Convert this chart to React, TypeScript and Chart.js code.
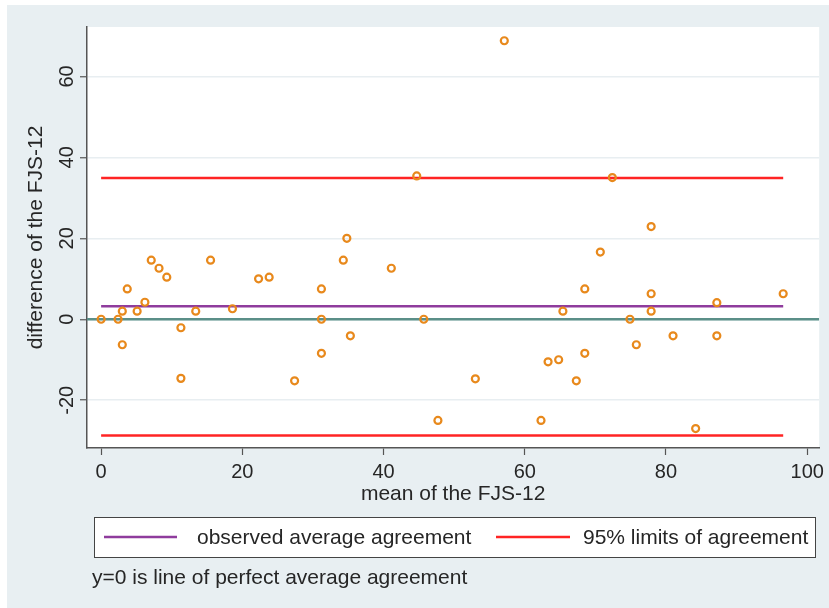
import React, { useEffect, useRef } from 'react';
import { Chart, registerables } from 'chart.js';

Chart.register(...registerables);

// Bland-Altman data: mean of the two FJS-12 measurements vs. their difference
const meanFJS = [
  0, 2.4, 3.0, 3.0, 3.7, 5.1, 6.2, 7.1, 8.2, 9.3,
  11.3, 11.3, 13.4, 15.5, 18.6, 22.3, 23.8, 27.4, 31.2, 31.2,
  31.2, 34.3, 34.8, 35.3, 41.1, 44.7, 45.7, 47.7, 53.0, 57.1,
  62.3, 63.3, 64.8, 65.4, 67.3, 68.5, 68.5, 70.7, 72.4, 74.9,
  75.8, 77.9, 77.9, 77.9, 81.0, 84.2, 87.2, 87.2, 96.6,
];
const diffFJS = [
  0, 0, 2.0, -6.3, 7.5, 2.0, 4.2, 14.6, 12.6, 10.4,
  -2.1, -14.6, 2.0, 14.6, 2.6, 10.0, 10.4, -15.2, 7.5, 0,
  -8.4, 14.6, 20.0, -4.1, 12.6, 35.4, 0, -25.0, -14.7, 68.8,
  -25.0, -10.5, -10.0, 2.0, -15.2, 7.5, -8.4, 16.6, 35.0, 0,
  -6.3, 22.9, 6.3, 2.0, -4.1, -27.0, 4.1, -4.1, 6.3,
];

const meanDifference = 3.2;
const upperLimit = 34.9;
const lowerLimit = -28.7;
const lineRange = [0, 96.6];

const xTicks = [0, 20, 40, 60, 80, 100];
const yTicks = [-20, 0, 20, 40, 60];
const xRange = [-2, 101.7];
const yRange = [-31.8, 72.2];

const xTitle = 'mean of the FJS-12';
const yTitle = 'difference of the FJS-12';
const legendLabels = ['observed average agreement', '95% limits of agreement'];
const noteText = 'y=0 is line of perfect average agreement';

const COLORS = {
  bg: '#e8eff2',
  plot: '#ffffff',
  grid: '#e8eef1',
  axis: '#555555',
  text: '#262626',
  point: '#e8891c',
  zero: '#5b8f88',
  mean: '#8f3c9d',
  limit: '#ff2424',
};
const FONT = '"Liberation Sans", Arial, Helvetica, sans-serif';

export default function App() {
  const ref = useRef<HTMLCanvasElement | null>(null);

  useEffect(() => {
    if (!ref.current) return;
    Chart.defaults.font.family = FONT;
    Chart.defaults.color = COLORS.text;

    const bgPlugin = {
      id: 'bgPlugin',
      beforeDraw(chart: any) {
        const { ctx, width, height, chartArea } = chart;
        ctx.save();
        ctx.fillStyle = COLORS.bg;
        ctx.fillRect(0, 0, width, height);
        ctx.fillStyle = COLORS.plot;
        ctx.fillRect(chartArea.left, chartArea.top, chartArea.right - chartArea.left, chartArea.bottom - chartArea.top);
        ctx.restore();
      },
    };

    const legendPlugin = {
      id: 'stataLegend',
      afterDraw(chart: any) {
        const { ctx } = chart;
        ctx.save();
        // legend box
        const bx = 87, by = 512, bw = 721, bh = 40;
        ctx.fillStyle = '#ffffff';
        ctx.fillRect(bx, by, bw, bh);
        ctx.strokeStyle = '#444444';
        ctx.lineWidth = 1;
        ctx.strokeRect(bx + 0.5, by + 0.5, bw, bh);
        const cy = by + bh / 2;
        ctx.lineWidth = 2.5;
        ctx.strokeStyle = COLORS.mean;
        ctx.beginPath(); ctx.moveTo(97, cy); ctx.lineTo(170, cy); ctx.stroke();
        ctx.strokeStyle = COLORS.limit;
        ctx.beginPath(); ctx.moveTo(489, cy); ctx.lineTo(563, cy); ctx.stroke();
        ctx.fillStyle = COLORS.text;
        ctx.font = `21px ${FONT}`;
        ctx.textBaseline = 'middle';
        ctx.textAlign = 'left';
        ctx.fillText(legendLabels[0], 190, cy + 1);
        ctx.fillText(legendLabels[1], 576, cy + 1);
        ctx.fillText(noteText, 85, 573);
        ctx.restore();
      },
    };

    const points = meanFJS.map((x, i) => ({ x, y: diffFJS[i] }));
    const hLine = (y: number, from: number, to: number) => [{ x: from, y }, { x: to, y }];

    const chart = new Chart(ref.current, {
      type: 'scatter',
      data: {
        datasets: [
          {
            label: 'difference',
            data: points,
            pointStyle: 'circle',
            pointRadius: 3.5,
            pointBorderWidth: 2.2,
            borderColor: COLORS.point,
            backgroundColor: 'rgba(0,0,0,0)',
            order: 0,
          },
          {
            label: 'zero',
            type: 'line',
            data: hLine(0, xRange[0], xRange[1]),
            borderColor: COLORS.zero,
            borderWidth: 2.5,
            pointRadius: 0,
            order: 3,
          },
          {
            label: legendLabels[0],
            type: 'line',
            data: hLine(meanDifference, lineRange[0], lineRange[1]),
            borderColor: COLORS.mean,
            borderWidth: 2.5,
            pointRadius: 0,
            order: 2,
          },
          {
            label: legendLabels[1],
            type: 'line',
            data: hLine(upperLimit, lineRange[0], lineRange[1]),
            borderColor: COLORS.limit,
            borderWidth: 2.5,
            pointRadius: 0,
            order: 1,
          },
          {
            label: 'lower limit',
            type: 'line',
            data: hLine(lowerLimit, lineRange[0], lineRange[1]),
            borderColor: COLORS.limit,
            borderWidth: 2.5,
            pointRadius: 0,
            order: 1,
          },
        ],
      },
      options: {
        animation: false,
        responsive: false,
        events: [],
        layout: { padding: { left: 0, top: 22, right: 7, bottom: 103 } },
        plugins: {
          legend: { display: false },
          tooltip: { enabled: false },
        },
        scales: {
          x: {
            type: 'linear',
            min: xRange[0],
            max: xRange[1],
            afterBuildTicks: (s: any) => { s.ticks = xTicks.map((v) => ({ value: v })); },
            afterFit: (s: any) => { s.height = 57; },
            grid: { drawOnChartArea: false, drawTicks: true, tickLength: 7, tickColor: COLORS.axis, tickWidth: 1.2 },
            border: { color: COLORS.axis, width: 1.5 },
            ticks: { font: { size: 20 }, color: COLORS.text, padding: 5, maxRotation: 0 },
            title: { display: true, text: xTitle, font: { size: 21, lineHeight: 1 }, color: COLORS.text, padding: { top: 0, bottom: 0 } },
          },
          y: {
            type: 'linear',
            min: yRange[0],
            max: yRange[1],
            afterBuildTicks: (s: any) => { s.ticks = yTicks.map((v) => ({ value: v })); },
            afterFit: (s: any) => { s.width = 80; },
            grid: { color: COLORS.grid, lineWidth: 1.5, drawTicks: true, tickLength: 7, tickColor: COLORS.axis, tickWidth: 1.2 },
            border: { color: COLORS.axis, width: 1.5 },
            ticks: { font: { size: 20 }, color: COLORS.text, padding: -2, minRotation: 90, maxRotation: 90, crossAlign: 'center' },
            title: { display: true, text: yTitle, font: { size: 21, lineHeight: 1 }, color: COLORS.text, padding: { top: 18.5, bottom: 0 } },
          },
        },
      },
      plugins: [bgPlugin, legendPlugin],
    } as any);

    return () => chart.destroy();
  }, []);

  return (
    <div style={{ position: 'absolute', left: 7, top: 5, width: 822, height: 603 }}>
      <canvas ref={ref} width={822} height={603} style={{ display: 'block', width: 822, height: 603 }} />
    </div>
  );
}
